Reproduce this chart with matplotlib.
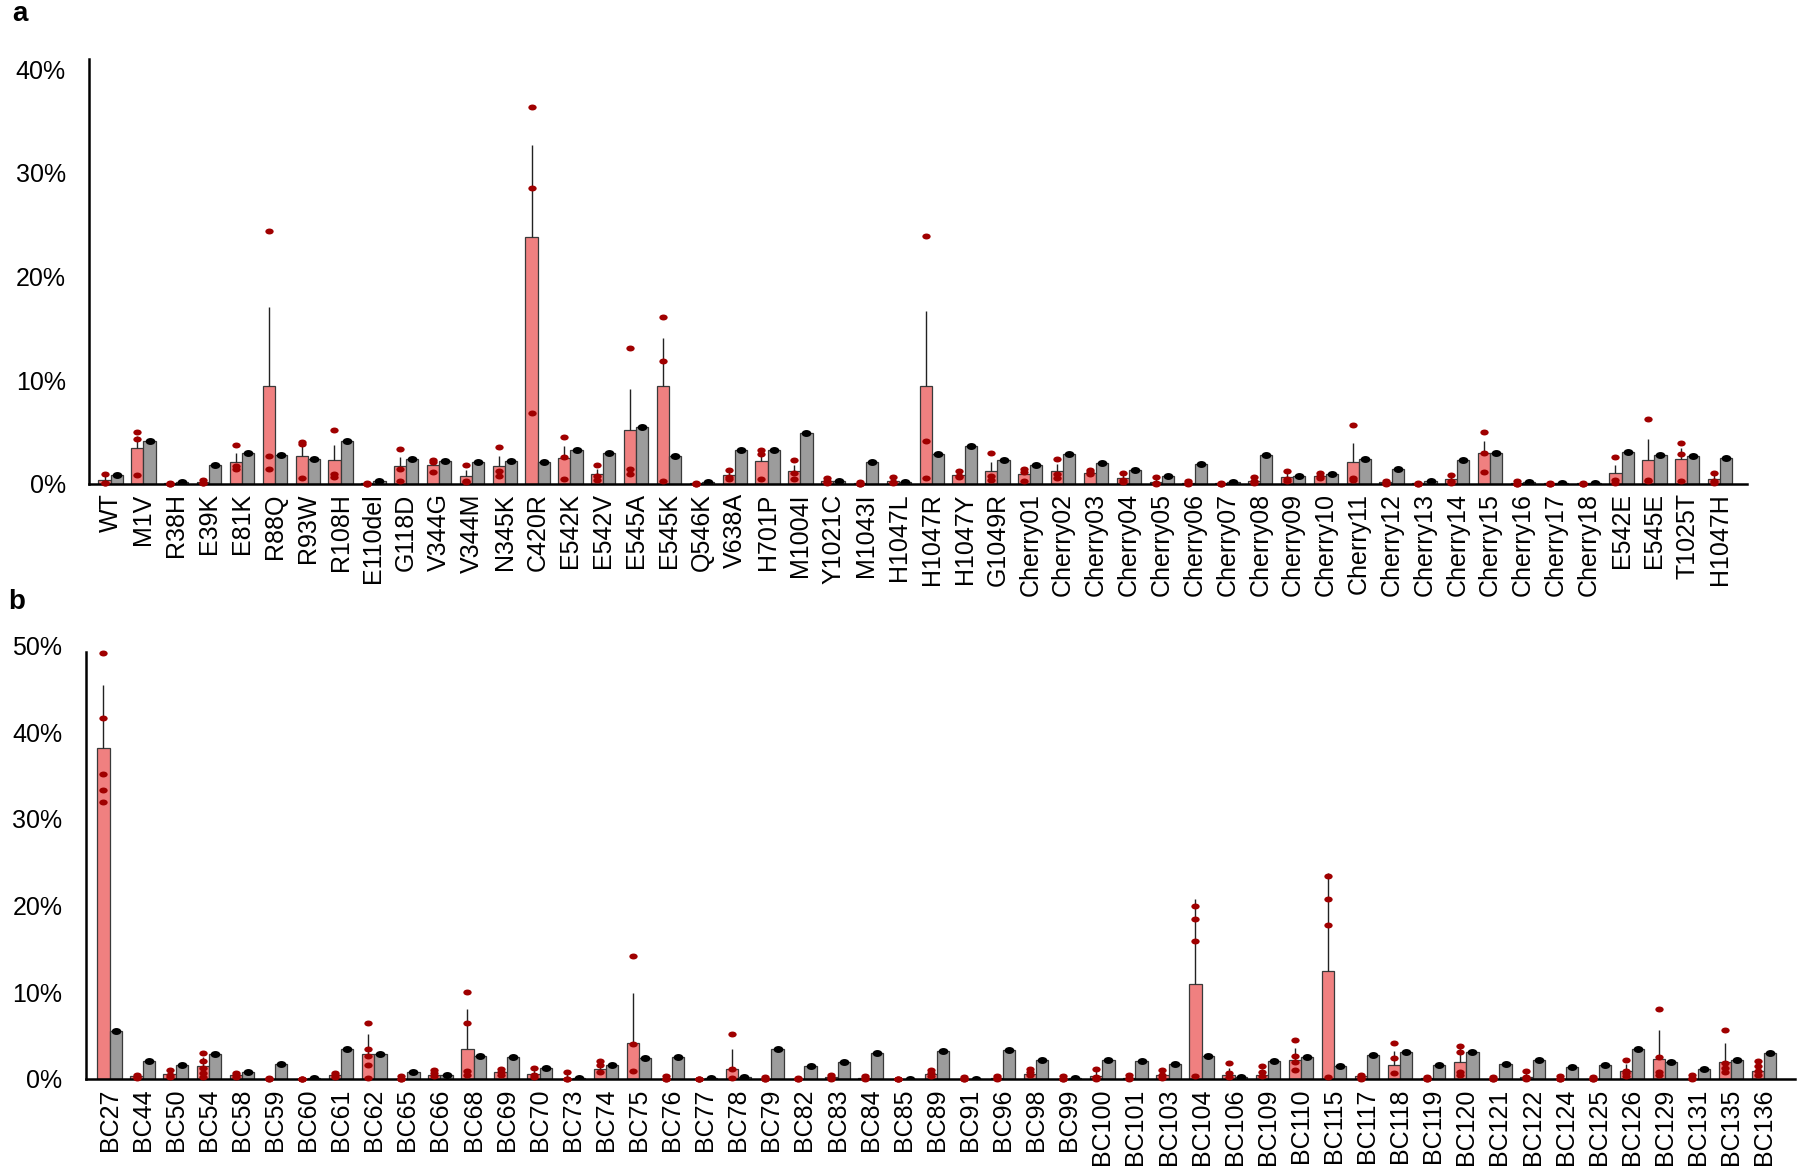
import numpy as np
import matplotlib
matplotlib.use('Agg')
import matplotlib.pyplot as plt
from matplotlib.path import Path
from matplotlib.transforms import Affine2D
from matplotlib.ticker import FuncFormatter

plt.rcParams['font.family'] = ['Liberation Sans', 'DejaVu Sans']

#%% panel a data (percent)
labels_a = ['WT','M1V','R38H','E39K','E81K','R88Q','R93W','R108H','E110del','G118D',
            'V344G','V344M','N345K','C420R','E542K','E542V','E545A','E545K','Q546K','V638A',
            'H701P','M1004I','Y1021C','M1043I','H1047L','H1047R','H1047Y','G1049R',
            'Cherry01','Cherry02','Cherry03','Cherry04','Cherry05','Cherry06','Cherry07',
            'Cherry08','Cherry09','Cherry10','Cherry11','Cherry12','Cherry13','Cherry14',
            'Cherry15','Cherry16','Cherry17','Cherry18','E542E','E545E','T1025T','H1047H']
red_a = [0.35,3.4,0.03,0.15,2.1,9.45,2.7,2.3,0.03,1.7,
         1.8,0.7,1.7,23.8,2.5,0.93,5.2,9.4,0.03,0.83,
         2.15,1.2,0.3,0.05,0.28,9.45,0.83,1.2,
         0.9,1.25,1.07,0.5,0.2,0.1,0.03,
         0.3,0.6,0.75,2.1,0.12,0.03,0.4,
         2.95,0.05,0.03,0.02,1.0,2.3,2.4,0.4]
err_a = [0.55,1.2,0.05,0.1,0.9,7.55,1.2,1.45,0.05,0.85,
         0.4,0.6,0.95,8.9,1.1,0.5,3.9,4.7,0.05,0.45,
         0.7,0.6,0.1,0.1,0.2,7.25,0.3,0.9,
         0.55,0.6,0.3,0.4,0.3,0.1,0.05,
         0.2,0.5,0.2,1.8,0.1,0.05,0.3,
         1.15,0.1,0.05,0.03,0.8,2.0,1.0,0.53]
dots_a = [[0.9,0.1,0.05],[5.0,4.3,0.8],[0.1,0,0],[0.35,0.05,0.05],[3.7,1.7,1.4],
          [24.4,2.7,1.45],[4.0,3.85,0.5],[5.2,0.9,0.6],[0.1,0,0],[3.3,1.45,0.25],
          [2.3,2.1,1.1],[1.8,0.25,0.15],[3.5,1.2,0.7],[36.3,28.5,6.8],[4.5,2.55,0.4],
          [1.8,0.7,0.35],[13.1,1.45,0.9],[16.1,11.8,0.25],[0.1,0,0],[1.3,0.6,0.4],
          [3.25,2.9,0.4],[2.3,1.0,0.4],[0.5,0.3,0.1],[0.2,0,0],[0.6,0.2,0.05],
          [23.9,4.1,0.5],[1.2,0.7,0.6],[3.0,0.7,0.35],
          [1.45,1.1,0.3],[2.4,0.9,0.5],[1.3,1.15,0.9],[1.0,0.35,0.2],[0.6,0.05,0],
          [0.3,0.05,0],[0.1,0,0],[0.6,0.3,0.05],[1.25,0.4,0.3],[1.0,0.75,0.5],
          [5.7,0.5,0.35],[0.28,0.05,0],[0.1,0,0],[0.83,0.3,0.1],[4.95,3.0,1.1],
          [0.25,0,0],[0.1,0,0],[0.1,0,0],[2.6,0.35,0.1],[6.2,0.35,0.3],
          [3.9,2.85,0.3],[1.0,0.25,0.1]]
gray_a = [0.83,4.1,0.15,1.8,3.0,2.8,2.4,4.1,0.28,2.4,
          2.2,2.1,2.15,2.1,3.25,2.95,5.5,2.7,0.2,3.2,
          3.2,4.9,0.3,2.1,0.2,2.85,3.6,2.3,
          1.75,2.9,1.97,1.3,0.75,1.85,0.12,
          2.8,0.7,0.93,2.4,1.45,0.28,2.3,
          3.0,0.12,0.1,0.1,3.05,2.75,2.7,2.5]

#%% panel b data (percent)
labels_b = ['BC27','BC44','BC50','BC54','BC58','BC59','BC60','BC61','BC62','BC65',
            'BC66','BC68','BC69','BC70','BC73','BC74','BC75','BC76','BC77','BC78',
            'BC79','BC82','BC83','BC84','BC85','BC89','BC91','BC96','BC98','BC99',
            'BC100','BC101','BC103','BC104','BC106','BC109','BC110','BC115','BC117','BC118',
            'BC119','BC120','BC121','BC122','BC124','BC125','BC126','BC129','BC131','BC135',
            'BC136']
red_b = [38.2,0.3,0.55,1.5,0.43,0.05,0.02,0.43,2.85,0.05,
         0.5,3.5,0.85,0.55,0.05,1.2,4.2,0.05,0.02,1.2,
         0.05,0.02,0.25,0.15,0.02,0.55,0.02,0.15,0.55,0.05,
         0.35,0.15,0.5,10.9,0.5,0.43,2.15,12.4,0.35,1.65,
         0.12,2.0,0.02,0.2,0.05,0.02,0.9,2.35,0.05,2.0,
         0.95]
err_b = [7.2,0.2,0.45,1.0,0.25,0.05,0.02,0.2,2.35,0.1,
         0.45,4.6,0.3,0.75,0.7,0.9,5.7,0.1,0.02,2.3,
         0.1,0.02,0.25,0.15,0.02,0.45,0.1,0.2,0.5,0.15,
         0.7,0.3,0.55,9.9,0.8,0.7,1.45,11.4,0.15,1.55,
         0.1,1.6,0.1,0.8,0.2,0.1,0.8,3.35,0.3,2.15,
         0.75]
dots_b = [[49.1,41.6,35.2,33.3,31.9],[0.5,0.2,0.1],[1.0,0.4,0.2],[3.0,2.1,1.3,0.65,0.2],
          [0.7,0.4,0.2],[0.15,0,0],[0.05,0,0],[0.65,0.4,0.2],[6.5,3.4,2.65,1.6,0.15],
          [0.3,0,0],[1.0,0.65,0.3],[10.0,6.5,0.95,0.43],[1.15,0.85,0.5],[1.3,0.43,0.2],
          [0.77,0,0],[2.1,1.6,0.85],[14.2,4.05,0.95],[0.3,0,0],[0.05,0,0],[5.2,1.15,0.1],
          [0.25,0,0],[0.15,0,0],[0.5,0.2,0.05],[0.3,0.1,0],[0.05,0,0],[1.0,0.65,0.35],
          [0.2,0,0],[0.35,0.1,0],[1.1,0.85,0.4],[0.35,0,0],[1.1,0.2,0],[0.5,0.15,0],
          [1.0,0.43,0.1],[19.9,18.4,15.9,0.3],[1.8,0.65,0.2],[1.5,0.85,0.3],
          [4.5,2.65,1.9,1.0],[23.4,20.8,17.8,0.17],[0.5,0.2,0],[4.15,2.4,0.65],
          [0.25,0,0],[3.75,3.15,0.77,0.43],[0.17,0,0],[0.95,0.2,0],[0.35,0,0],[0.2,0,0],
          [2.2,0.95,0.65,0.3],[8.1,2.5,0.77,0.43],[0.5,0.15,0],[5.7,1.8,1.3,0.77],
          [2.05,1.5,0.95,0.5]]
gray_b = [5.5,2.1,1.6,2.9,0.85,1.7,0.08,3.4,2.9,0.77,
          0.43,2.65,2.5,1.3,0.1,1.6,2.4,2.55,0.08,0.2,
          3.5,1.5,1.9,3.0,0.05,3.2,0.05,3.35,2.15,0.08,
          2.15,2.05,1.7,2.65,0.17,2.1,2.5,1.5,2.75,3.15,
          1.6,3.15,1.7,2.2,1.35,1.6,3.5,1.9,1.15,2.2,
          3.0]

#%% 样式
red_c = '#F08080'
gray_c = '#9C9C9C'
dot_red = '#A00000'
w = 0.37
# 椭圆点
ell = Path.unit_circle().transformed(Affine2D().scale(1.4, 1.0))

fig = plt.figure(figsize=(18, 11.71), dpi=100)


def panel(ax, labels, red, err, dots, gray):
    x = np.arange(len(labels))
    ax.bar(x - w/2, red, w, color=red_c, edgecolor='#3a3a3a', linewidth=0.9, zorder=2)
    ax.bar(x + w/2, gray, w, color=gray_c, edgecolor='#3a3a3a', linewidth=0.9, zorder=2)
    ax.errorbar(x - w/2, red, yerr=[np.zeros(len(red)), err], fmt='none',
                ecolor='#222222', elinewidth=1.0, capsize=0, zorder=3)
    for i, d in enumerate(dots):
        ax.plot([x[i] - w/2]*len(d), d, linestyle='none', marker=ell, markersize=6,
                color=dot_red, markeredgewidth=0, zorder=4, clip_on=False)
    ax.plot(x + w/2, gray, linestyle='none', marker=ell, markersize=7, color='black',
            markeredgewidth=0, zorder=4)
    ax.set_xticks(x)
    ax.set_xticklabels(labels, rotation=90, fontsize=18)
    ax.tick_params(axis='x', length=0, pad=7)
    ax.tick_params(axis='y', length=0, pad=17, labelsize=18)
    ax.yaxis.set_major_formatter(FuncFormatter(lambda v, p: '%d%%' % v))
    for s in ['top', 'right']:
        ax.spines[s].set_visible(False)
    ax.spines['left'].set_linewidth(1.8)
    ax.spines['bottom'].set_linewidth(1.8)


ax1 = fig.add_axes([0.0496, 0.587, 0.9208, 0.3628])
panel(ax1, labels_a, red_a, err_a, dots_a, gray_a)
ax1.set_xlim(-0.65, len(labels_a) - 0.19)
ax1.set_ylim(0, 41)
ax1.set_yticks([0, 10, 20, 30, 40])

ax2 = fig.add_axes([0.0478, 0.0786, 0.9494, 0.3702])
panel(ax2, labels_b, red_b, err_b, dots_b, gray_b)
ax2.set_xlim(-0.71, len(labels_b) - 0.07)
ax2.set_ylim(0, 50)
ax2.set_yticks([0, 10, 20, 30, 40, 50])
ax2.spines['left'].set_bounds(0, 49.2)

fig.text(0.0067, 0.988, 'a', fontsize=20, fontweight='bold', va='center')
fig.text(0.0045, 0.486, 'b', fontsize=20, fontweight='bold', va='center')

fig.savefig('out.png', dpi=100)
